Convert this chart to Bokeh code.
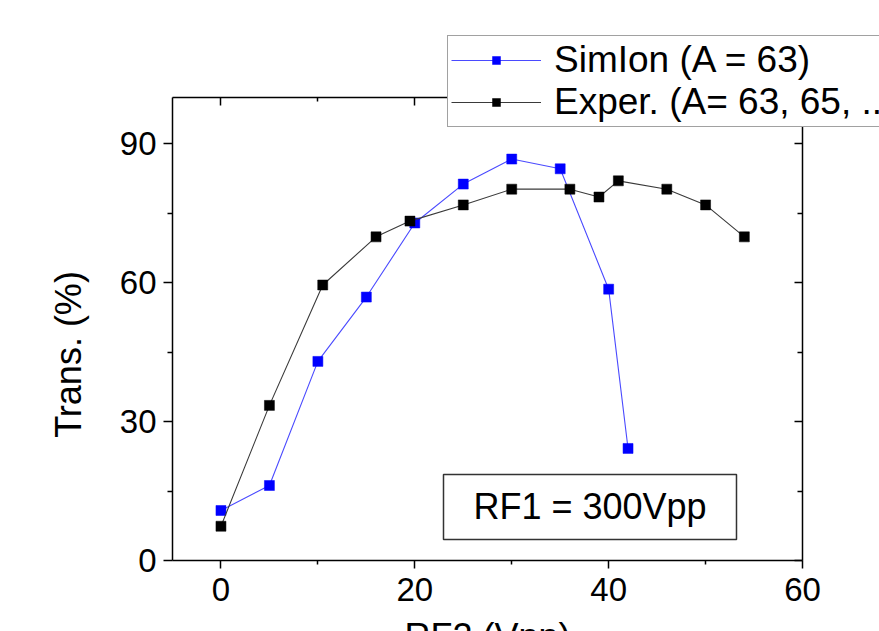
import math
from bokeh.plotting import figure
from bokeh.models import (Range1d, LinearAxis, FixedTicker, Legend, LegendItem,
                          Label, BoxAnnotation)
from bokeh.embed import file_html
from bokeh.resources import INLINE

# ---- data ----
sim_x = [0, 5, 10, 15, 20, 25, 30, 35, 40, 42]
sim_y = [10.8, 16.2, 43.0, 56.9, 72.9, 81.3, 86.7, 84.6, 58.6, 24.2]

exp_x = [0, 5, 10.5, 16, 19.5, 25, 30, 36, 39, 41, 46, 50, 54]
exp_y = [7.4, 33.5, 59.5, 69.9, 73.3, 76.8, 80.2, 80.2, 78.5, 82.0, 80.2, 76.8, 69.9]

x_major = [0, 20, 40, 60]
x_minor = [10, 30, 50]
y_major = [0, 30, 60, 90]
y_minor = [15, 45, 75]

sim_label = "SimIon (A = 63)"
exp_label = "Exper. (A= 63, 65, ...)"
x_title = "RF2 (Vpp)"
y_title = "Trans. (%)"
note_text = "RF1 = 300Vpp"

FONT = "Liberation Sans"

# ---- layout: the axes box of the reference, in canvas pixels ----
W, H = 879, 631
X0, X1 = -5, 60          # data limits of the axes box
Y0, Y1 = 0, 100
PX_L, PX_R = 172, 802     # pixel edges of the axes box
PY_T, PY_B = 97, 560

kx = (PX_R - PX_L) / (X1 - X0)
ky = (PY_B - PY_T) / (Y1 - Y0)
xr = Range1d(X0 - PX_L / kx, X1 + (W - PX_R) / kx)
yr = Range1d(Y0 - (H - PY_B) / ky, Y1 + PY_T / ky)

p = figure(width=W, height=H, output_backend="svg", toolbar_location=None,
           x_range=xr, y_range=yr,
           x_axis_location=None, y_axis_location=None,
           min_border=0)
p.outline_line_color = None
p.grid.grid_line_color = None
p.background_fill_color = "white"
p.border_fill_color = "white"

def make_axis(major, minor, bounds, loc, show_labels, tick_in, tick_out, minor_in, minor_out):
    ax = LinearAxis(ticker=FixedTicker(ticks=major, minor_ticks=minor))
    ax.bounds = bounds
    ax.fixed_location = loc
    ax.axis_line_color = "black"
    ax.axis_line_width = 1.5
    ax.major_tick_line_color = "black"
    ax.major_tick_line_width = 1.5
    ax.minor_tick_line_color = "black"
    ax.minor_tick_line_width = 1.5
    ax.major_tick_in = tick_in
    ax.major_tick_out = tick_out
    ax.minor_tick_in = minor_in
    ax.minor_tick_out = minor_out
    ax.major_label_text_font = FONT
    ax.major_label_text_font_size = "33px"
    if show_labels:
        ax.major_label_text_color = "black"
    else:
        ax.major_label_text_color = None
        ax.major_label_text_alpha = 0
    return ax

bottom = make_axis(x_major, x_minor, (X0, X1), Y0, True, 0, 8, 0, 4)
bottom.major_label_standoff = 9
left = make_axis(y_major, y_minor, (Y0, Y1), X0, True, 0, 9, 0, 5)
left.major_label_standoff = 7
top = make_axis(x_major, x_minor, (X0, X1), Y1, False, 8, 0, 4, 0)
right = make_axis(y_major, y_minor, (Y0, Y1), X1, False, 8, 0, 5, 0)
p.add_layout(bottom, "below")
p.add_layout(left, "left")
p.add_layout(top, "above")
p.add_layout(right, "right")

# ---- series ----
l1 = p.line(sim_x, sim_y, line_color="#4a4aff", line_width=1.1)
s1 = p.scatter(sim_x, sim_y, marker="square", size=10, fill_color="#0000ff",
               line_color="#0000ff", line_width=0.5)
l2 = p.line(exp_x, exp_y, line_color="#3a3a3a", line_width=1.1)
s2 = p.scatter(exp_x, exp_y, marker="square", size=10, fill_color="black",
               line_color="black", line_width=0.5)

# ---- note box ----
box = BoxAnnotation(left=22.96, right=53.19, bottom=4.54, top=18.57,
                    fill_color="white", fill_alpha=1.0,
                    line_color="#333333", line_width=1.5, line_alpha=1.0)
p.add_layout(box)
p.add_layout(Label(x=38.08, y=11.57, text=note_text, text_align="center",
                   text_baseline="middle", text_font=FONT,
                   text_font_size="36px", text_color="black"))

# ---- axis titles ----
p.add_layout(Label(x=-15.68, y=44.5, text=y_title, angle=math.pi / 2,
                   text_align="center", text_baseline="middle",
                   text_font=FONT, text_font_size="36px", text_color="black"))
p.add_layout(Label(x=27.5, y=-11.9, text=x_title, text_align="center",
                   text_baseline="top", text_font=FONT,
                   text_font_size="36px", text_color="black"))

# ---- legend ----
legend = Legend(items=[LegendItem(label=sim_label, renderers=[l1, s1]),
                       LegendItem(label=exp_label, renderers=[l2, s2])],
                location=(447, H - 127), orientation="vertical")
legend.border_line_color = "#444444"
legend.border_line_width = 1.5
legend.background_fill_color = "white"
legend.background_fill_alpha = 1.0
legend.label_text_font = FONT
legend.label_text_font_size = "37px"
legend.label_text_color = "black"
legend.glyph_width = 90
legend.glyph_height = 20
legend.label_standoff = 13
legend.padding = 3
legend.spacing = 0
legend.margin = 0
p.add_layout(legend, "center")

open("out.html", "w").write(file_html(p, INLINE))
